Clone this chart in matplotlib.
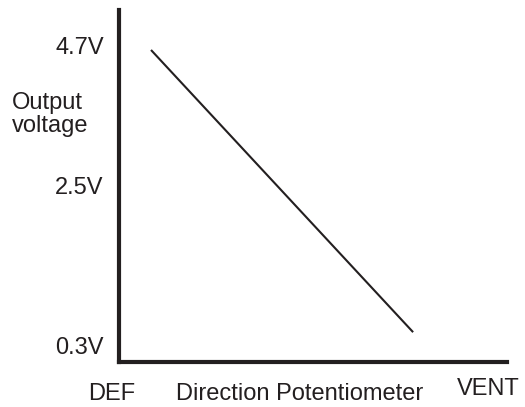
import numpy as np
import matplotlib
matplotlib.use("Agg")
import matplotlib.pyplot as plt

# ---- data ----
pot_position = [0.0825, 0.758]          # fraction of potentiometer travel (DEF -> VENT)
output_voltage = [4.63, 0.49]           # V
y_tick_values = [0.3, 2.5, 4.7]
y_tick_labels = ["0.3V", "2.5V", "4.7V"]
x_end_labels = ["DEF", "VENT"]
x_title = "Direction Potentiometer"
y_title = "Output\nvoltage"

INK = "#231f20"
plt.rcParams["font.family"] = ["Liberation Sans", "DejaVu Sans"]
FS = 17

W, H = 525, 407
fig = plt.figure(figsize=(W / 100, H / 100), dpi=100)

# schematic (non-uniform) voltage axis: piecewise linear between labelled levels
_v = np.array(y_tick_values, float)
_p = np.array([61.0, 221.0, 361.5])


def fwd(v):
    v = np.asarray(v, float)
    lo = _p[0] + (v - _v[0]) * (_p[1] - _p[0]) / (_v[1] - _v[0])
    hi = _p[1] + (v - _v[1]) * (_p[2] - _p[1]) / (_v[2] - _v[1])
    return np.where(v < _v[1], lo, hi)


def inv(p):
    p = np.asarray(p, float)
    lo = _v[0] + (p - _p[0]) * (_v[1] - _v[0]) / (_p[1] - _p[0])
    hi = _v[1] + (p - _p[1]) * (_v[2] - _v[1]) / (_p[2] - _p[1])
    return np.where(p < _p[1], lo, hi)


ax = fig.add_axes([119 / W, (H - 361.5) / H, (507 - 119) / W, (361.5 - 10) / H])
ax.set_yscale("function", functions=(fwd, inv))
ax.set_xlim(0, 1)
ax.set_ylim(float(inv(45.5)), float(inv(397.0)))

ax.plot(pot_position, output_voltage, color=INK, lw=1.5, solid_capstyle="butt")

for s in ["top", "right"]:
    ax.spines[s].set_visible(False)
for s in ["left", "bottom"]:
    ax.spines[s].set_linewidth(3.0)
    ax.spines[s].set_color(INK)
    ax.spines[s].set_capstyle("projecting")

ax.set_xticks([])
ax.set_yticks(y_tick_values)
ax.set_yticklabels(y_tick_labels)
ax.yaxis.set_minor_locator(matplotlib.ticker.NullLocator())
ax.tick_params(axis="y", length=0, pad=11, labelsize=FS, labelcolor=INK)

def px(x, y):
    return x / W, 1 - y / H

fig.text(*px(12, 92), y_title, fontsize=FS, color=INK, ha="left", va="top",
         linespacing=1.08)
fig.text(*px(111.5, 394), x_end_labels[0], fontsize=FS, color=INK, ha="center", va="center")
fig.text(*px(300, 393.5), x_title, fontsize=FS, color=INK, ha="center", va="center")
fig.text(*px(488.5, 389), x_end_labels[1], fontsize=FS, color=INK, ha="center", va="center")

fig.savefig("out.png", dpi=100)
